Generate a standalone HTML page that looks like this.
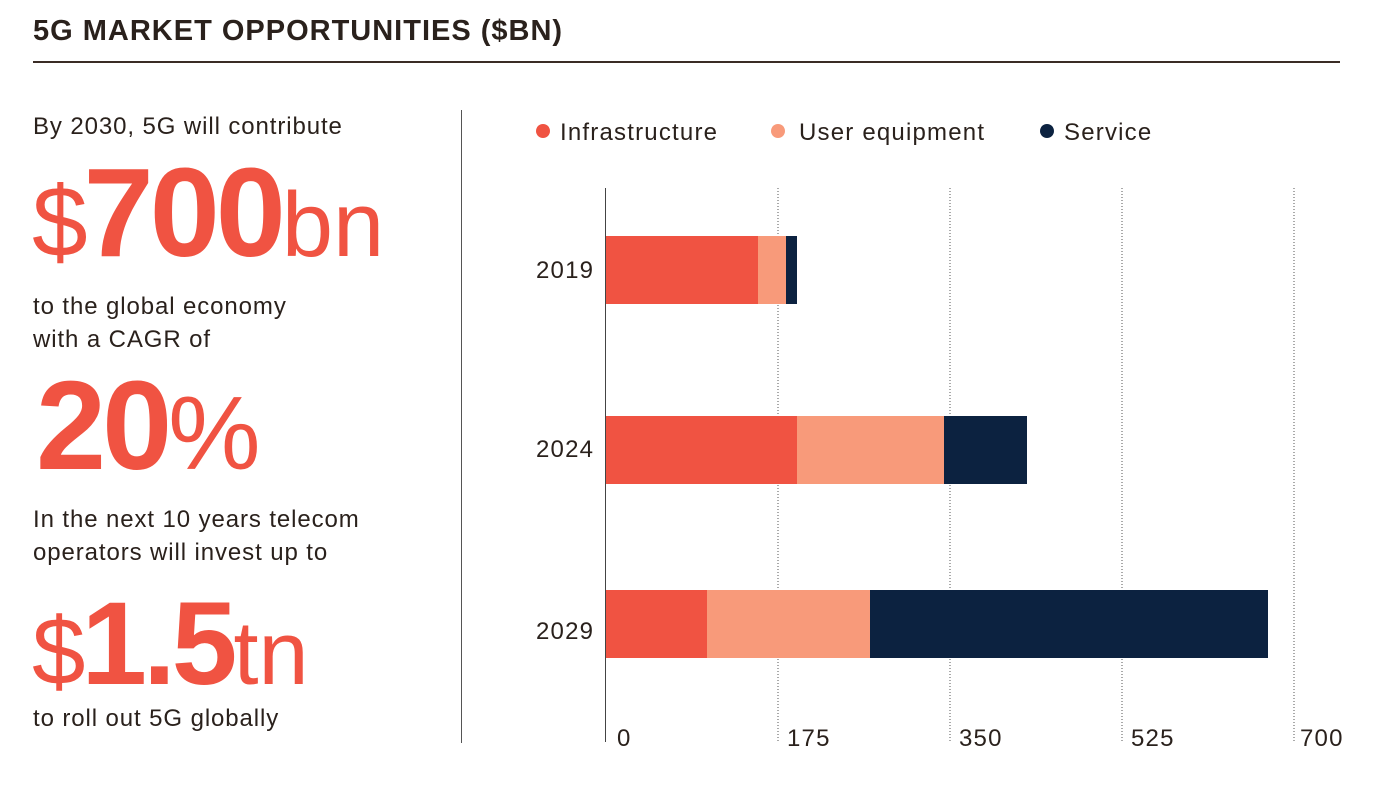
<!DOCTYPE html>
<html><head><style>
body{margin:0;width:1380px;height:802px;background:#fff;overflow:hidden;font-family:"Liberation Sans",sans-serif;color:#2a211c;position:relative}
.a{position:absolute;white-space:nowrap}
.t{font-size:24px;letter-spacing:0.9px}
.big{color:#f05342;font-size:126px;line-height:1;letter-spacing:-4px}
</style></head><body>
<div class="a" style="left:33px;top:15px;font-size:29px;font-weight:bold;letter-spacing:1px">5G MARKET OPPORTUNITIES ($BN)</div>
<div class="a" style="left:33px;top:61px;width:1307px;height:2px;background:#3a2c25"></div>
<div class="a t" style="left:33px;top:113px">By 2030, 5G will contribute</div>
<div class="a big" style="left:32px;top:150px"><span style="font-weight:normal;font-size:100px">$</span><b>700</b><span style="font-size:92px;letter-spacing:0">bn</span></div>
<div class="a t" style="left:33px;top:290px;line-height:33px">to the global economy<br>with a CAGR of</div>
<div class="a big" style="left:36px;top:363px"><b>20</b><span style="font-size:104px">%</span></div>
<div class="a t" style="left:33px;top:503px;line-height:33px">In the next 10 years telecom<br>operators will invest up to</div>
<div class="a big" style="left:32px;top:585px;font-size:118px"><span style="font-size:96px">$</span><b>1.5</b><span style="font-size:90px;letter-spacing:0">tn</span></div>
<div class="a t" style="left:33px;top:705px">to roll out 5G globally</div>
<div class="a" style="left:461px;top:110px;width:1px;height:633px;background:#555"></div>
<svg class="a" style="left:0;top:0" width="1380" height="802">
<g font-family="Liberation Sans,sans-serif" font-size="24" fill="#2a211c" letter-spacing="1.2">
<circle cx="543" cy="131" r="7" fill="#f05342"/><text x="560" y="140">Infrastructure</text>
<circle cx="778" cy="131" r="7" fill="#f89a7a"/><text x="799" y="140">User equipment</text>
<circle cx="1047" cy="131" r="7" fill="#0c2240"/><text x="1064" y="140">Service</text>
<g stroke="#555" stroke-width="1" stroke-dasharray="1,2">
<line x1="778" y1="188" x2="778" y2="742"/><line x1="950" y1="188" x2="950" y2="742"/>
<line x1="1122" y1="188" x2="1122" y2="742"/><line x1="1294" y1="188" x2="1294" y2="742"/></g>
<line x1="605.5" y1="188" x2="605.5" y2="742" stroke="#444"/>
<rect x="606" y="236" width="152" height="68" fill="#f05342"/><rect x="758" y="236" width="28" height="68" fill="#f89a7a"/><rect x="786" y="236" width="11" height="68" fill="#0c2240"/>
<rect x="606" y="416" width="191" height="68" fill="#f05342"/><rect x="797" y="416" width="147" height="68" fill="#f89a7a"/><rect x="944" y="416" width="83" height="68" fill="#0c2240"/>
<rect x="606" y="590" width="101" height="68" fill="#f05342"/><rect x="707" y="590" width="163" height="68" fill="#f89a7a"/><rect x="870" y="590" width="398" height="68" fill="#0c2240"/>
<text x="536" y="278">2019</text><text x="536" y="457">2024</text><text x="536" y="639">2029</text>
<text x="617" y="746">0</text><text x="787" y="746">175</text><text x="959" y="746">350</text><text x="1131" y="746">525</text><text x="1300" y="746">700</text>
</g></svg>
</body></html>
